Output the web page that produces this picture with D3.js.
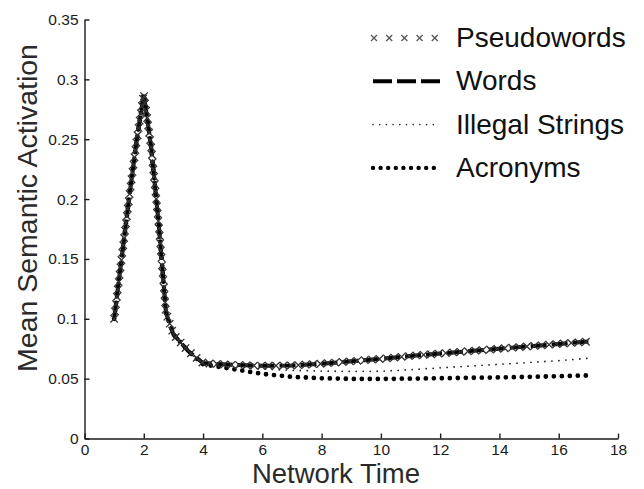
<!DOCTYPE html>
<meta charset="utf-8">
<style>
  body { margin: 0; background: #fff; }
  svg { display: block; font-family: "Liberation Sans", Arial, sans-serif; }
</style>
<svg width="644" height="489"></svg>
<script src="https://d3js.org/d3.v7.min.js"></script>
<script>

// network time steps and mean semantic activation per condition
var times        = [1, 1.25, 1.5, 1.75, 2, 2.25, 2.5, 2.75, 3, 3.5, 4, 5, 6, 7, 8, 9, 10, 11, 12, 13, 14, 15, 16, 17];
var pseudowords  = [0.100, 0.150, 0.200, 0.247, 0.288, 0.243, 0.180, 0.105, 0.087, 0.073, 0.063, 0.0615, 0.0607, 0.061, 0.0625, 0.0645, 0.0665, 0.069, 0.071, 0.073, 0.075, 0.077, 0.079, 0.081];
var words        = [0.100, 0.150, 0.200, 0.247, 0.288, 0.243, 0.180, 0.105, 0.087, 0.073, 0.063, 0.0615, 0.0607, 0.061, 0.0625, 0.0645, 0.0665, 0.069, 0.071, 0.073, 0.075, 0.077, 0.079, 0.081];
var illegal      = [0.100, 0.150, 0.200, 0.247, 0.288, 0.243, 0.180, 0.105, 0.087, 0.073, 0.063, 0.061, 0.058, 0.057, 0.0563, 0.056, 0.0562, 0.0575, 0.059, 0.0605, 0.062, 0.0635, 0.065, 0.067];
var acronyms     = [0.100, 0.150, 0.200, 0.247, 0.288, 0.243, 0.180, 0.105, 0.087, 0.073, 0.062, 0.058, 0.054, 0.0515, 0.0503, 0.0498, 0.0498, 0.050, 0.0503, 0.0507, 0.051, 0.0515, 0.052, 0.0527];

var legendNames = ["Pseudowords", "Words", "Illegal Strings", "Acronyms"];
var xTicks = [0, 2, 4, 6, 8, 10, 12, 14, 16, 18];
var yTicks = [0, 0.05, 0.1, 0.15, 0.2, 0.25, 0.3, 0.35];

var svg = d3.select("svg");
var ink = "#1a1a1a";

var x = d3.scaleLinear().domain([0, 18]).range([84.5, 618]);
var y = d3.scaleLinear().domain([0, 0.35]).range([438.5, 19.5]);

// axes, ticks pointing inwards
var xAxis = d3.axisBottom(x).tickValues(xTicks).tickSize(-5).tickSizeOuter(0).tickPadding(5)
    .tickFormat(d3.format("~g"));
var yAxis = d3.axisLeft(y).tickValues(yTicks).tickSize(-5).tickSizeOuter(0).tickPadding(6)
    .tickFormat(d3.format("~g"));

var gx = svg.append("g").attr("transform", "translate(0," + y(0) + ")").call(xAxis);
var gy = svg.append("g").attr("transform", "translate(" + x(0) + ",0)").call(yAxis);
[gx, gy].forEach(function(g){
  g.selectAll("path, line").attr("stroke", ink).attr("stroke-width", 1.4);
  g.selectAll("text").attr("fill", ink).style("font-size", "15.5px").attr("font-family", null);
});

svg.append("text")
    .attr("x", 336).attr("y", 483)
    .attr("text-anchor", "middle")
    .style("font-size", "27.5px").attr("fill", "#2a2a2a")
    .text("Network Time");

svg.append("text")
    .attr("transform", "translate(37,208) rotate(-90)")
    .attr("text-anchor", "middle")
    .style("font-size", "28.5px").attr("fill", "#2a2a2a")
    .text("Mean Semantic Activation");

var line = d3.line()
    .x(function(d){ return x(d[0]); })
    .y(function(d){ return y(d[1]); });

function pairs(vals) {
  return times.map(function(t, i){ return [t, vals[i]]; });
}

// line styles
function styleWords(sel)   { sel.attr("fill", "none").attr("stroke", "#000").attr("stroke-width", 4).attr("stroke-dasharray", "16,5"); }
function styleIllegal(sel) { sel.attr("fill", "none").attr("stroke", "#222").attr("stroke-width", 1.8).attr("stroke-linecap", "round").attr("stroke-dasharray", "0,7"); }
function styleAcro(sel)    { sel.attr("fill", "none").attr("stroke", "#000").attr("stroke-width", 4.8).attr("stroke-linecap", "round").attr("stroke-dasharray", "0,8"); }

function cross(g, cx, cy, r, c) {
  g.append("path")
    .attr("d", "M" + (cx - r) + "," + (cy - r) + "L" + (cx + r) + "," + (cy + r) +
               "M" + (cx - r) + "," + (cy + r) + "L" + (cx + r) + "," + (cy - r))
    .attr("stroke", c).attr("stroke-width", 1.3).attr("fill", "none");
}

var plot = svg.append("g");
plot.append("path").attr("d", line(pairs(words))).call(styleWords);
plot.append("path").attr("d", line(pairs(acronyms))).call(styleAcro);
plot.append("path").attr("d", line(pairs(illegal))).call(styleIllegal);

// pseudowords: x markers laid along the curve
var guide = plot.append("path").attr("d", line(pairs(pseudowords))).attr("fill", "none").attr("stroke", "none");
var node = guide.node(), total = node.getTotalLength();
var marks = plot.append("g");
for (var s = 0; s <= total; s += 7.4) {
  var p = node.getPointAtLength(s);
  cross(marks, p.x, p.y, 3.7, "#333");
}

// legend
var legend = svg.append("g");
legendNames.forEach(function(name, i){
  var base = 47 + i * 43.3, ly = base - 9;
  legend.append("text").attr("x", 456).attr("y", base)
    .style("font-size", "28px").attr("fill", "#111").text(name);
  if (i === 0) {
    for (var k = 0; k < 5; k++) cross(legend, 374 + k * 15.2, ly, 3, "#555");
  } else if (i === 1) {
    legend.append("line").attr("x1", 373).attr("x2", 442).attr("y1", ly).attr("y2", ly).call(styleWords)
      .attr("stroke-width", 4).attr("stroke-dasharray", "19,5");
  } else if (i === 2) {
    legend.append("line").attr("x1", 373).attr("x2", 434).attr("y1", ly).attr("y2", ly).call(styleIllegal)
      .attr("stroke-width", 1.6).attr("stroke-dasharray", "0,6.7");
  } else {
    legend.append("line").attr("x1", 373).attr("x2", 434).attr("y1", ly).attr("y2", ly).call(styleAcro)
      .attr("stroke-width", 4.4).attr("stroke-dasharray", "0,7.6");
  }
});

</script>
